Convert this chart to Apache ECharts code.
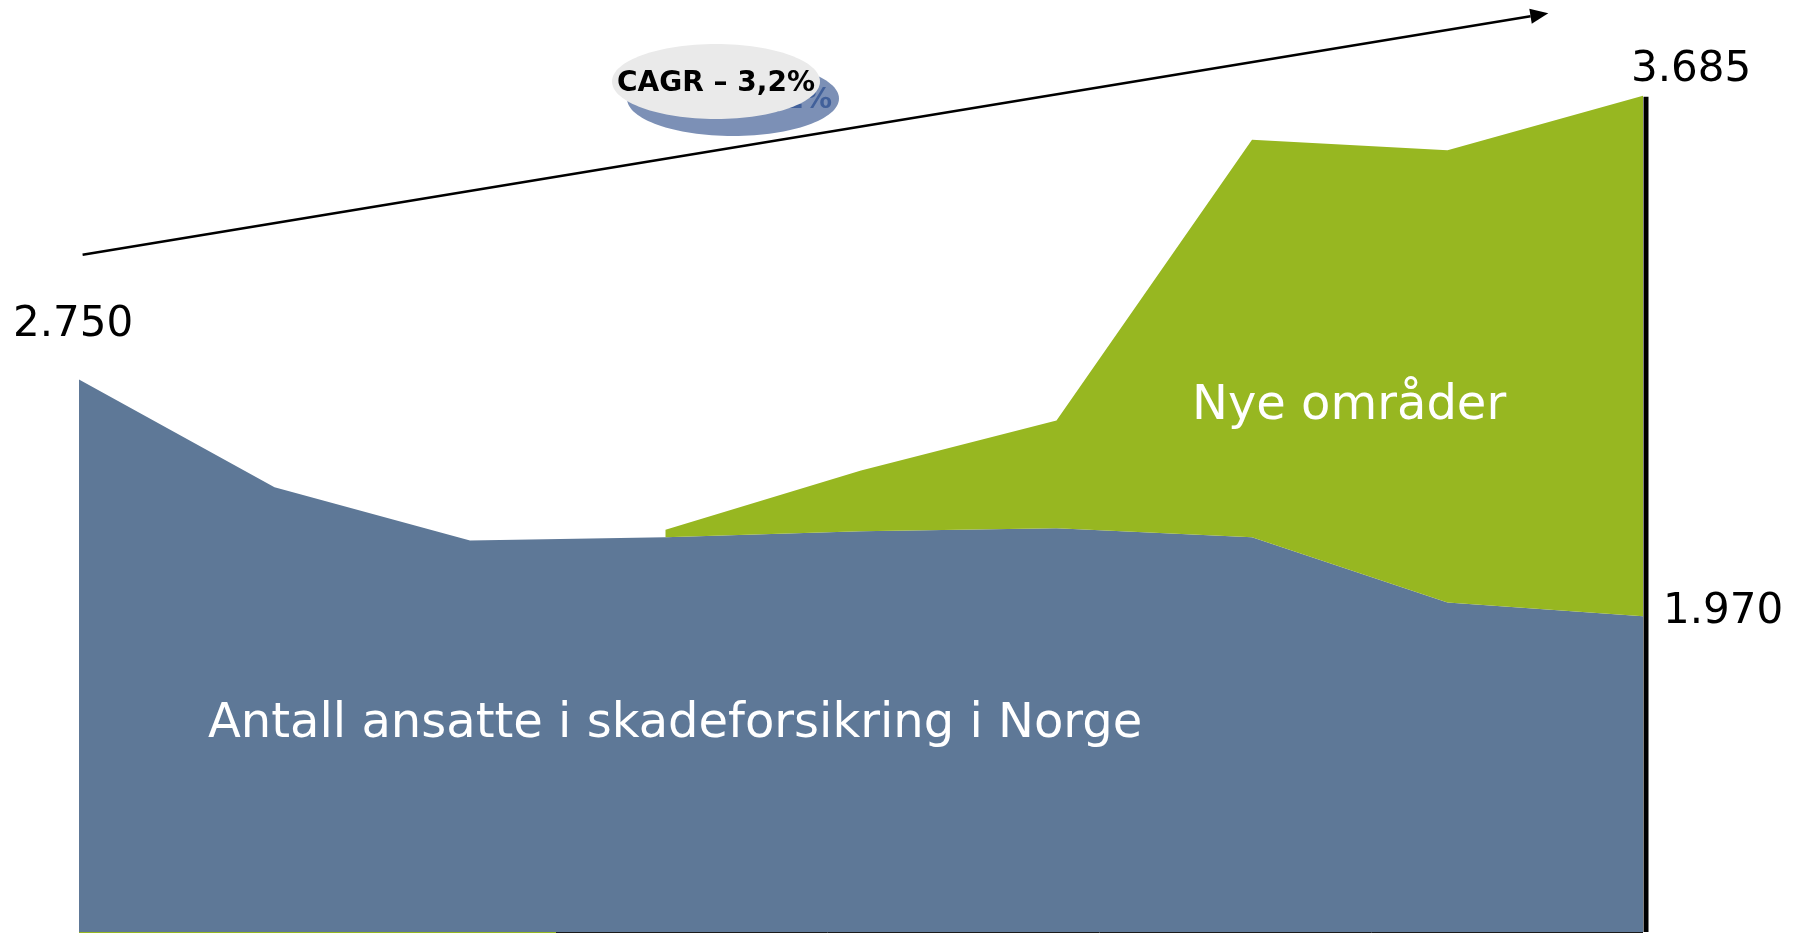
<!DOCTYPE html>
<html>
<head>
<meta charset="utf-8">
<script src="https://cdn.jsdelivr.net/npm/echarts@6/dist/echarts.min.js"></script>
<style>
html,body{margin:0;padding:0;background:#fff;}
#chart{width:1800px;height:933px;}
</style>
</head>
<body>
<div id="chart"></div>
<script>
// ---- data ----
const categories = ['1', '2', '3', '4', '5', '6', '7', '8', '9'];
const norge = [2750, 2395, 2220, 2230, 2250, 2260, 2230, 2015, 1970];
const nyeOmrader = ['-', '-', '-', 25, 200, 355, 1310, 1490, 1715];
const seriesNames = ['Antall ansatte i skadeforsikring i Norge', 'Nye områder'];
const cagrText = 'CAGR – 3,2%';

const BLUE = '#5E7897';
const GREEN = '#97B721';
const FONT = 'DejaVu Sans';

function fmt(v) { return String(v).replace(/\B(?=(\d{3})+(?!\d))/g, '.'); }

const chart = echarts.init(document.getElementById('chart'), null, {renderer: 'canvas'});

chart.setOption({
  animation: false,
  backgroundColor: '#ffffff',
  grid: {left: 79, right: 157, top: 0, bottom: 1},
  xAxis: {type: 'category', data: categories, boundaryGap: false, show: false},
  yAxis: {type: 'value', min: 930, max: 4000, show: false},
  series: [
    {
      name: seriesNames[0], type: 'line', stack: 'total', data: norge,
      symbol: 'none', lineStyle: {width: 0}, areaStyle: {color: BLUE, opacity: 1},
      z: 2
    },
    {
      name: seriesNames[1], type: 'line', stack: 'total', data: nyeOmrader,
      symbol: 'none', lineStyle: {width: 0}, areaStyle: {color: GREEN, opacity: 1},
      connectNulls: false, z: 2
    }
  ]
});

const last = categories.length - 1;
const total = norge.map((v, i) => (typeof nyeOmrader[i] === 'number' ? v + nyeOmrader[i] : v));
const p0 = chart.convertToPixel({gridIndex: 0}, [categories[0], norge[0]]);
const pTop = chart.convertToPixel({gridIndex: 0}, [categories[last], total[last]]);
const pEnd = chart.convertToPixel({gridIndex: 0}, [categories[last], norge[last]]);
const pBase = chart.convertToPixel({gridIndex: 0}, [categories[last], 930]);

const numStyle = {fill: '#000', font: '42px "' + FONT + '"', textVerticalAlign: 'middle', textAlign: 'left'};

// arrow geometry
const ax0 = 82.6, ay0 = 254.8, tipX = 1548.3, tipY = 13.3;
const dx = tipX - ax0, dy = tipY - ay0, len = Math.sqrt(dx * dx + dy * dy);
const ux = dx / len, uy = dy / len, nx = -uy, ny = ux;
const hl = 18, hw = 7.5;
const bx = tipX - hl * ux, by = tipY - hl * uy;

chart.setOption({
  graphic: [
    // right vertical black bar
    {type: 'line', z: 10, shape: {x1: pTop[0] + 3, y1: pTop[1] + 1, x2: pTop[0] + 3, y2: pBase[1]},
     style: {stroke: '#000', lineWidth: 5}},
    // bottom edge lines
    {type: 'line', z: 10, shape: {x1: p0[0], y1: 932.5, x2: 556, y2: 932.5}, style: {stroke: GREEN, lineWidth: 1}},
    {type: 'line', z: 10, shape: {x1: 556, y1: 932.5, x2: pTop[0], y2: 932.5}, style: {stroke: '#1a1a1a', lineWidth: 1}},
    // value labels
    {type: 'text', z: 10, x: p0[0] - 66, y: p0[1] - 54, style: Object.assign({text: fmt(norge[0])}, numStyle)},
    {type: 'text', z: 10, x: pTop[0] - 12, y: pTop[1] - 26, style: Object.assign({text: fmt(total[last])}, numStyle)},
    {type: 'text', z: 10, x: pEnd[0] + 20, y: pEnd[1] - 4, style: Object.assign({text: fmt(norge[last])}, numStyle)},
    // area labels
    {type: 'text', z: 10, x: 1192, y: 407, style: {text: seriesNames[1], fill: '#fff', font: '48px "' + FONT + '"', textVerticalAlign: 'middle'}},
    {type: 'text', z: 10, x: 208, y: 725, style: {text: seriesNames[0], fill: '#fff', font: '48px "' + FONT + '"', textVerticalAlign: 'middle'}},
    // arrow
    {type: 'line', z: 10, shape: {x1: ax0, y1: ay0, x2: bx, y2: by}, style: {stroke: '#000', lineWidth: 2.5}},
    {type: 'polygon', z: 10, shape: {points: [[tipX, tipY], [bx + hw * nx, by + hw * ny], [bx - hw * nx, by - hw * ny]]}, style: {fill: '#000'}},
    // CAGR bubble shadow
    {type: 'ellipse', z: 11, shape: {cx: 733, cy: 98.5, rx: 106, ry: 37.5}, style: {fill: '#7C90B6'}},
    {type: 'text', z: 12, x: 733, y: 101, style: {text: cagrText, fill: '#41609A', font: 'bold 28px "' + FONT + '"', textAlign: 'center', textVerticalAlign: 'middle'}},
    // CAGR bubble
    {type: 'ellipse', z: 13, shape: {cx: 716, cy: 81.5, rx: 104, ry: 37.5}, style: {fill: '#EAEAEA'}},
    {type: 'text', z: 14, x: 716, y: 84, style: {text: cagrText, fill: '#000', font: 'bold 28px "' + FONT + '"', textAlign: 'center', textVerticalAlign: 'middle'}}
  ]
});
</script>
</body>
</html>
